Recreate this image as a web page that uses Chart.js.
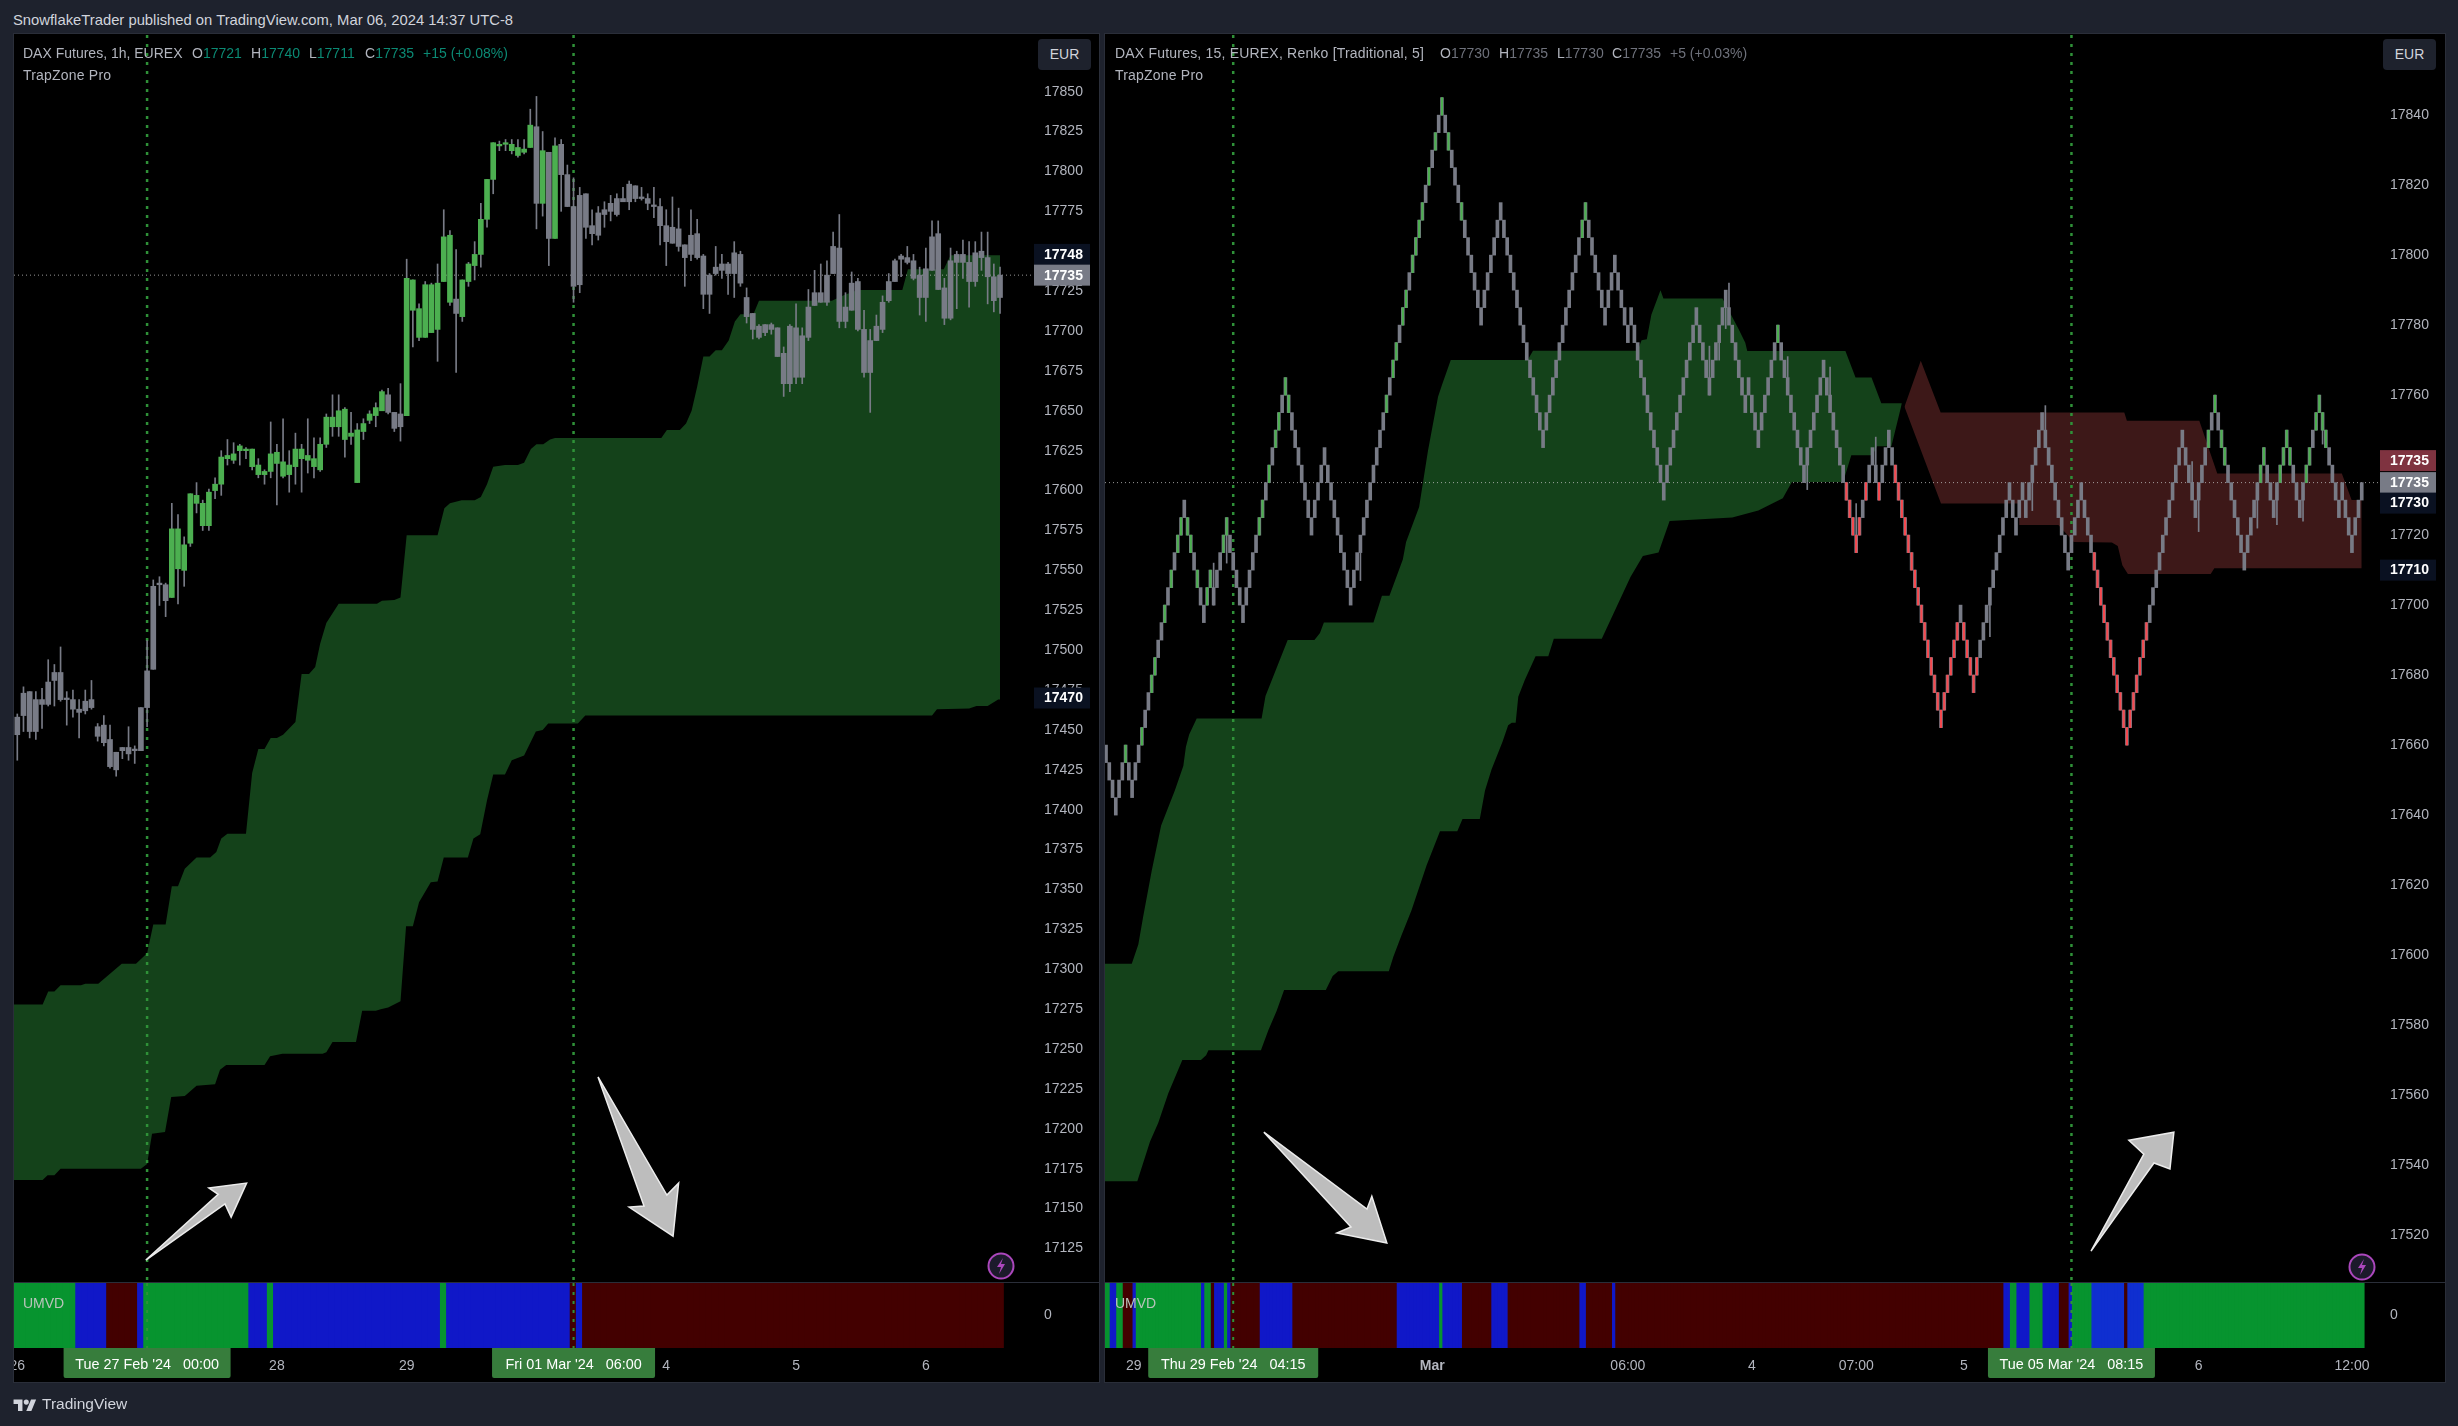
<!DOCTYPE html>
<html>
<head>
<meta charset="utf-8">
<title>DAX Futures TrapZone Pro</title>
<script src="https://cdn.jsdelivr.net/npm/chart.js@4.4.6/dist/chart.umd.min.js"></script>
<style>
  html, body { margin: 0; padding: 0; width: 2458px; height: 1426px; overflow: hidden; background: #1e222d; }
  body, div, span { font-family: "Liberation Sans", sans-serif; font-size: 14px; color: #b2b5be; }
  .abs { position: absolute; white-space: pre; line-height: 16px; }
  .panel { position: absolute; top: 34px; height: 1348px; background: #000; outline: 1px solid #2a2e39; }
  canvas { position: absolute; left: 0; top: 1px; }
  .eur { position: absolute; top: 39px; width: 53px; height: 31px; line-height: 31px; text-align: center; background: #1e222d; border-radius: 4px; color: #d1d4dc; }
  .val { color: #0b8a74; }
  .dim { color: #6e717b; }
</style>
</head>
<body>

<div class="abs" style="left:13px;top:12px;color:#d1d4dc;font-size:14.8px">SnowflakeTrader published on TradingView.com, Mar 06, 2024 14:37 UTC-8</div>

<div class="panel" style="left:14px;width:1085px"><canvas id="chartLeft" width="1085" height="1347"></canvas></div>
<div class="panel" style="left:1105px;width:1340px"><canvas id="chartRight" width="1340" height="1347"></canvas></div>

<div class="abs" style="left:23px;top:45px">DAX Futures, 1h, EUREX</div>
<div class="abs" style="left:192px;top:45px">O<span class="val">17721</span></div>
<div class="abs" style="left:251px;top:45px">H<span class="val">17740</span></div>
<div class="abs" style="left:309px;top:45px">L<span class="val">17711</span></div>
<div class="abs" style="left:365px;top:45px">C<span class="val">17735</span></div>
<div class="abs val" style="left:423px;top:45px">+15 (+0.08%)</div>
<div class="abs" style="left:23px;top:67px;letter-spacing:.2px">TrapZone Pro</div>

<div class="abs" style="left:1115px;top:45px;letter-spacing:.2px">DAX Futures, 15, EUREX, Renko [Traditional, 5]</div>
<div class="abs" style="left:1440px;top:45px">O<span class="dim">17730</span></div>
<div class="abs" style="left:1499px;top:45px">H<span class="dim">17735</span></div>
<div class="abs" style="left:1557px;top:45px">L<span class="dim">17730</span></div>
<div class="abs" style="left:1612px;top:45px">C<span class="dim">17735</span></div>
<div class="abs dim" style="left:1670px;top:45px">+5 (+0.03%)</div>
<div class="abs" style="left:1115px;top:67px;letter-spacing:.2px">TrapZone Pro</div>

<div class="eur" style="left:1038px">EUR</div>
<div class="eur" style="left:2383px">EUR</div>

<div class="abs" style="left:23px;top:1295px;color:#b9c4bb">UMVD</div>
<div class="abs" style="left:1115px;top:1295px;color:#b9c4bb">UMVD</div>

<svg style="position:absolute;left:987px;top:1252px" width="28" height="28" viewBox="0 0 28 28">
  <circle cx="14" cy="14" r="12.5" fill="#1c1a2b" stroke="#ab47bc" stroke-width="2"/>
  <path d="M16 6 L10 15 H14 L12 22 L18 12 H14 Z" fill="#ab47bc"/>
</svg>
<svg style="position:absolute;left:2348px;top:1253px" width="28" height="28" viewBox="0 0 28 28">
  <circle cx="14" cy="14" r="12.5" fill="#1c1a2b" stroke="#ab47bc" stroke-width="2"/>
  <path d="M16 6 L10 15 H14 L12 22 L18 12 H14 Z" fill="#ab47bc"/>
</svg>

<svg style="position:absolute;left:13px;top:1397px" width="24" height="14" viewBox="0 0 36 22">
  <path d="M14 22H7V11H0V4h14v18zM28 22h-8l7.5-18h8L28 22z" fill="#d1d4dc"/><circle cx="20" cy="8" r="4" fill="#d1d4dc"/>
</svg>
<div class="abs" style="left:42px;top:1396px;color:#d1d4dc;font-size:15.5px">TradingView</div>

<script>
const fontName = '"Liberation Sans", sans-serif';
const gray = '#787b86', green = '#4caf50', red = '#f6494f';
const umvdColors = { g: '#07942f', b: '#1018c8', c: '#0f2fd0', m: '#430000' };

// ---- left chart, 1h candles ----
const candleTop = [17458,17473,17474,17469,17469,17480,17486,17486,17470,17469,17463,17468,17469,17452,17453,17444,17436,17439,17439,17438,
  17464,17487,17540,17542,17541,17576,17576,17566,17598,17597,17592,17599,17604,17621,17622,17623,17628,17626,17626,17616,
  17612,17623,17624,17618,17616,17626,17626,17622,17620,17629,17646,17646,17650,17651,17636,17638,17642,17648,17652,17662,
  17660,17649,17648,17733,17732,17714,17729,17729,17730,17759,17760,17720,17732,17742,17748,17770,17795,17818,17817,17818,
  17817,17815,17814,17829,17828,17813,17812,17816,17817,17798,17778,17785,17786,17766,17774,17776,17780,17783,17783,17792,
  17791,17784,17783,17779,17778,17766,17765,17764,17754,17760,17761,17747,17735,17740,17742,17742,17749,17748,17721,17711,
  17703,17704,17704,17702,17686,17703,17702,17697,17715,17724,17724,17735,17753,17752,17715,17730,17731,17701,17694,17703,
  17718,17731,17744,17747,17746,17744,17735,17739,17759,17761,17727,17744,17748,17748,17743,17749,17750,17746,17734,17735];
const candleBottom = [17447,17459,17449,17449,17466,17466,17481,17469,17469,17463,17461,17462,17464,17446,17442,17427,17425,17437,17435,17437,
  17437,17464,17488,17541,17531,17533,17551,17550,17567,17592,17578,17578,17600,17604,17620,17619,17625,17625,17615,17610,
  17610,17612,17617,17609,17610,17615,17620,17619,17615,17613,17629,17640,17640,17632,17634,17605,17637,17644,17647,17650,
  17649,17639,17640,17647,17713,17696,17696,17699,17701,17731,17718,17711,17709,17731,17741,17748,17770,17795,17816,17817,
  17813,17810,17812,17815,17780,17780,17758,17758,17798,17778,17728,17729,17765,17761,17760,17773,17775,17773,17781,17781,
  17783,17783,17780,17778,17766,17756,17755,17753,17746,17748,17746,17723,17723,17736,17738,17736,17736,17730,17709,17701,
  17696,17699,17701,17684,17667,17667,17671,17671,17696,17716,17718,17718,17736,17706,17706,17713,17701,17674,17674,17694,
  17701,17719,17731,17745,17743,17733,17721,17721,17738,17726,17708,17708,17743,17743,17731,17731,17746,17734,17719,17721];
const candleHigh = [17460,17477,17474,17474,17476,17494,17491,17502,17474,17475,17469,17475,17481,17454,17459,17453,17436,17439,17452,17440,
  17464,17506,17544,17546,17542,17592,17585,17571,17598,17605,17594,17601,17608,17625,17632,17630,17629,17627,17626,17620,
  17613,17643,17629,17645,17625,17636,17629,17645,17633,17633,17648,17660,17660,17652,17649,17642,17645,17650,17655,17663,
  17664,17649,17667,17745,17732,17717,17731,17730,17742,17776,17763,17751,17732,17743,17756,17780,17795,17818,17819,17820,
  17820,17820,17820,17839,17847,17825,17812,17821,17820,17804,17796,17790,17786,17776,17778,17781,17785,17786,17790,17794,
  17791,17790,17786,17790,17783,17776,17784,17777,17754,17776,17770,17748,17736,17753,17748,17743,17756,17750,17727,17711,
  17704,17704,17705,17702,17690,17704,17717,17702,17726,17738,17742,17744,17762,17773,17724,17737,17733,17713,17701,17710,
  17722,17736,17745,17748,17753,17748,17740,17752,17769,17769,17733,17752,17750,17757,17756,17756,17762,17762,17742,17740];
const candleLow = [17431,17449,17445,17444,17451,17465,17465,17468,17453,17458,17445,17460,17463,17443,17440,17426,17421,17432,17431,17429,
  17437,17452,17488,17528,17521,17533,17529,17540,17565,17586,17575,17575,17595,17597,17616,17617,17616,17620,17613,17608,
  17604,17608,17591,17608,17599,17604,17599,17611,17608,17612,17627,17634,17634,17621,17629,17605,17632,17642,17640,17650,
  17648,17637,17631,17647,17690,17694,17696,17699,17681,17731,17716,17674,17706,17728,17732,17740,17765,17786,17813,17813,
  17811,17809,17811,17815,17764,17772,17741,17758,17775,17778,17718,17724,17758,17754,17757,17765,17769,17772,17781,17776,
  17781,17782,17776,17771,17754,17741,17755,17750,17728,17744,17745,17714,17711,17735,17733,17723,17721,17728,17705,17695,
  17695,17697,17698,17684,17659,17662,17667,17667,17694,17716,17718,17716,17736,17702,17702,17713,17700,17671,17649,17694,
  17699,17718,17731,17734,17742,17732,17710,17706,17738,17726,17704,17707,17714,17733,17715,17728,17738,17717,17712,17711];
const candleGreen = [25,26,27,28,29,30,31,32,33,34,35,36,37,38,39,40,41,42,43,44,45,46,47,48,49,50,51,52,53,54,55,56,57,58,59,
  63,64,65,66,67,68,69,70,72,73,74,75,76,77,78,79,80,81,82,83,85,87];

const bandLeftTopX = [-0.6,4.1,5,6,7,10.3,11,13.1,16.9,19.2,21,22,24,25,26,27.1,29,31.2,32.2,33,34,37,38,39,40,41,42,43,45,46,47.2,48.2,49,50,52,58.2,59,61,62,63,68,69.1,70,71.9,74,75,76,77,78.9,81,82,83.1,84,85.1,86.2,87,104.2,105.1,107.2,108.2,109.1,110,111,112,113,114,115.1,116.1,117,119.1,120,131.8,133.8,136,143.2,144.1,149.9,151,159];
const bandLeftTopY = [17278,17278,17286,17286,17290,17290,17291,17291,17303.5,17303.5,17310,17328,17328,17352,17352,17363,17370,17370,17373.5,17382,17385,17385,17423,17438,17438,17445,17445,17447,17455,17485,17485,17489.5,17504,17517,17529,17529,17531,17531.5,17533,17572,17572,17589,17592,17594,17594,17596,17604,17615,17616,17616,17617.5,17626,17629,17629,17632,17633,17633,17638,17638,17642,17650,17665,17684,17684,17688,17688,17694,17706,17710.5,17710.5,17719,17719,17722.6,17725.7,17725.7,17738.7,17738.7,17747.4,17747.4];
const bandLeftBottomX = [-0.6,4.1,4.9,6,7,20,21,21.8,23.9,24.9,27.1,29,32,32.8,33.8,40,40.9,42.9,49.4,50,51,54.8,55.8,58,58.8,60,62,62.9,64,65,66.9,68,69,72.9,73.8,74.9,76,77,78.9,80,82,83.9,85,85.9,90.7,91.9,148,148.8,154,155.2,157,158.7,159];
const bandLeftBottomY = [17168,17168,17171,17171,17175,17175,17178,17197,17198,17220,17220.6,17227,17228,17237,17240,17240,17245.5,17247,17247,17248,17254.5,17254.5,17274,17274,17275,17276,17280,17327,17327,17342,17354.5,17355,17370,17370,17382,17384.6,17406,17422,17422,17431,17434,17449,17450,17454,17454,17459,17459,17463,17463.4,17465,17465,17469,17469];

const priceTicksLeft = [17850,17825,17800,17775,17750,17725,17700,17675,17650,17625,17600,17575,17550,17525,17500,17475,17450,17425,17400,17375,17350,17325,17300,17275,17250,17225,17200,17175,17150,17125];
const timeTicksLeft = [0,42,63,105,126,147];
const timeLabelsLeft = ['26','28','29','4','5','6'];
const umvdLeftState = ['g','b','m','b','g','b','g','b','g','b','m','b','m'];
const umvdLeftBars = [10,5,5,1,17,3,1,27,1,20,1,1,68];

// ---- right chart, renko ----
const renkoCloses = [17655,17650,17645,17640,17650,17655,17660,17650,17645,
  17655,17660,17665,17670,17675,17680,17685,17690,17695,17700,17705,17710,17715,17720,17725,17730,
  17720,17715,17710,17705,17700,17695,17705,17710,17700,17710,17715,17720,17725,17715,17710,17705,17700,17695,
  17705,17710,17715,17720,17725,17730,17735,17740,17745,17750,17755,17760,17765,
  17755,17750,17745,17740,17735,17730,17725,17720,17730,17735,17740,17745,
  17735,17730,17725,17720,17715,17710,17705,17700,
  17710,17715,17720,17725,17730,17735,17740,17745,17750,17755,17760,17765,17770,17775,17780,17785,17790,17795,17800,17805,17810,17815,17820,17825,17830,17835,17840,17845,
  17835,17830,17825,17820,17815,17810,17805,17800,17795,17790,17785,17780,
  17790,17795,17800,17805,17810,17815,
  17805,17800,17795,17790,17785,17780,17775,17770,17765,17760,17755,17750,17745,
  17755,17760,17765,17770,17775,17780,17785,17790,17795,17800,17805,17810,17815,
  17805,17800,17795,17790,17785,17780,17790,17795,17800,17790,17785,17780,17775,17785,
  17775,17770,17765,17760,17755,17750,17745,17740,17735,17730,
  17740,17745,17750,17755,17760,17765,17770,17775,17780,17785,
  17775,17770,17765,17760,17770,17775,17780,17785,17790,17780,17775,17770,17765,17760,17755,17765,17755,17750,17745,
  17755,17760,17765,17770,17775,17780,17770,17765,17760,17755,17750,17745,17740,17735,
  17745,17750,17755,17760,17765,17770,17760,17755,17750,17745,17740,17735,17730,17725,17720,17715,
  17725,17730,17735,17740,17745,17735,17730,17740,17745,17750,
  17740,17735,17730,17725,17720,17715,17710,17705,17700,17695,17690,17685,17680,17675,17670,17665,
  17675,17680,17685,17690,17695,17700,17690,17685,17680,17675,
  17685,17690,17695,17700,17705,17710,17715,17720,17725,17730,17735,17725,17720,17730,17735,17725,
  17735,17740,17745,17750,17755,17745,17740,17735,17730,17725,17720,17715,17710,17720,17725,17730,17735,
  17725,17720,17715,17710,17705,17700,17695,17690,17685,17680,17675,17670,17665,17660,
  17670,17675,17680,17685,17690,17695,17700,17705,17710,17715,17720,17725,17730,17735,17740,17745,17750,
  17740,17735,17730,17725,17735,17740,17745,17750,17755,17760,
  17750,17745,17740,17735,17730,17725,17720,17715,17710,17720,17725,17730,17735,17740,17745,
  17735,17730,17725,17735,17740,17745,17750,17740,17735,17730,17725,17735,17740,17745,17750,17755,17760,
  17750,17745,17740,17735,17730,17725,17735,17725,17720,17715,17725,17730,17735];
const brickSize = 5;
const renkoGreen = [6,11,14,15,18,20,22,23,25,26,28,31,32,36,37,47,48,50,52,53,55,56,86,88,89,91,92,94,95,96,97,99,101,103,105,109,146,147,206,
  338,340,342,343,354,355,360,361,362,363,368,369,371,372,373,374];
const renkoRed = [227,228,229,230,231,233,237,242,243,244,245,246,247,248,249,250,251,252,253,254,255,256,257,258,259,260,261,263,264,265,266,267,
  303,304,305,306,307,308,309,310,311,312,313,314,315,316,317,318,319];
const renkoWickIndex = [33,37,78,185,188,190,191,209,215,222,230,236,271,284,288,333,335,353,359,367,373];
const renkoWickLow = [17700,17712,17707,17760,17770,17779,17785,17765,17733,17760,17715,17735,17691,17727,17745,17735,17721,17722,17723,17724,17746];
const renkoWickHigh = [17712,17720,17715,17774,17775,17785,17792,17771,17740,17768,17729,17748,17700,17735,17757,17741,17730,17730,17730,17730,17755];

const bandRightTopX = [-0.4,7.9,9.9,11.4,14,16.9,21.1,23.7,24.5,25.5,27.8,47.7,48.9,52.3,55.7,63.9,65.6,66.8,82,84.6,86.9,91,92,96,98.7,101.8,103,105.7,129.3,130.9,163,164.2,165.8,167.2,170,170.9,189,193.9,196,196.6,226.7,229.8,234.7,237.7,244];
const bandRightTopY = [17597.5,17597.5,17603,17611,17624,17637,17647,17654,17659.5,17663,17667.6,17667.6,17674,17682,17690,17690,17692,17695,17695,17702.7,17702.7,17713,17718,17728,17744,17759.5,17762.9,17770,17770,17772.7,17772.7,17775.7,17776,17783,17790,17787.6,17787.6,17779,17775,17772.6,17772.6,17765,17765,17757.7,17757.7];
const bandRightBottomX = [-0.4,9.6,13.5,16,19.1,23.4,29.1,30.7,31.4,47.5,49.8,52.3,54.6,67.4,69.5,71.2,86.7,88.1,90.6,93.7,98.3,102.4,107.7,109.3,114.6,116.2,118.2,121.6,123.3,124.4,125.6,126.4,128.4,131.7,135.6,137.3,152,160.8,164.6,169.4,172.8,192,200,207.5,208.6,210.3,226,228.5,235,236.4,240.8,244];
const bandRightBottomY = [17535.4,17535.4,17546.7,17552,17560.5,17570,17570,17571.4,17572.8,17572.8,17578.6,17584,17590,17590,17594,17595.4,17595.4,17599.5,17605.7,17612.9,17625.7,17635.4,17635.4,17638.9,17638.9,17647,17653,17661,17665.7,17666.4,17666.4,17673.8,17678.6,17685.4,17685.4,17690.4,17690.4,17708,17714,17715,17724,17725,17727,17730.5,17732.4,17735.2,17735.2,17742.8,17742.8,17745.4,17745.4,17757.6];
const redBandTopX = [244.8,249.8,255.9,312.2,313,335.2,340.7,378.9,381.9,385];
const redBandTopY = [17756.7,17769.8,17755,17755,17752.7,17752.7,17737.6,17737.6,17730,17730];
const redBandBottomX = [244.8,256,279.9,280,292,296.7,308.4,310.2,311.6,313.3,338.7,339.8,385];
const redBandBottomY = [17756.7,17729,17729,17722.9,17722.9,17718,17717.9,17716.9,17711.4,17708.9,17708.9,17710.5,17710.5];

const priceTicksRight = [17840,17820,17800,17780,17760,17740,17720,17700,17680,17660,17640,17620,17600,17580,17560,17540,17520];
const timeTicksRight = [8.5,100,160,198,230,263,335,382];
const timeLabelsRight = ['29','Mar','06:00','4','07:00','5','6','12:00'];
const umvdRightState = ['g','b','g','m','b','g','b','g','m','b','g','b','m','b','m','b','g','b','m','b','m','b','m','b','m','b','g','b','g','b','m','b','g','c','m','c','g'];
const umvdRightBars = [2,2,2,3,1,20,1,2,1,3,1,1,9,10,32,13,1,6,9,5,22,2,8,1,119,2,2,4,4,5,3,1,6,10,1,5,67];

function pts(xs, ys) { return xs.map((x, i) => ({ x: x, y: ys[i] })); }

function band(xTop, yTop, xBot, yBot, color) {
  return [
    { type: 'line', order: 10, data: pts(xTop, yTop), borderWidth: 0, pointRadius: 0, tension: 0, fill: '+1', backgroundColor: color, yAxisID: 'y' },
    { type: 'line', order: 10, data: pts(xBot, yBot), borderWidth: 0, pointRadius: 0, tension: 0, fill: false, yAxisID: 'y' }
  ];
}

function crosshairs(lastPrice, xMin, xMax, yMin, yMax, vlines) {
  const out = [{ type: 'line', order: 6, data: [{ x: xMin, y: lastPrice }, { x: xMax, y: lastPrice }], borderColor: 'rgba(190,190,190,0.8)', borderWidth: 1, borderDash: [1, 3], pointRadius: 0, yAxisID: 'y' }];
  vlines.forEach(v => {
    out.push({ type: 'line', order: 6, data: [{ x: v, y: yMax }, { x: v, y: yMin }], borderColor: '#2f9138', borderWidth: 2.5, borderDash: [3, 6], pointRadius: 0, yAxisID: 'y' });
    out.push({ type: 'line', order: 0, data: [{ x: v, y: 1 }, { x: v, y: -1 }], borderColor: '#2f9138', borderWidth: 2, borderDash: [3, 6], pointRadius: 0, yAxisID: 'ind' });
  });
  return out;
}

// one floating bar per bar index in the lower UMVD pane
function umvdDataset(states, bars, thickness) {
  const data = [], colors = [];
  let n = 0;
  states.forEach((s, k) => {
    for (let j = 0; j < bars[k]; j++) { data.push({ x: n, y: [-1, 1] }); colors.push(umvdColors[s]); n++; }
  });
  return { type: 'bar', order: 3, data: data, backgroundColor: colors, barThickness: thickness, grouped: false, borderWidth: 0, yAxisID: 'ind' };
}

// price tags, date labels, pane separator and the drawn arrows
function overlay(tags, dates, arrows) {
  return {
    id: 'overlay',
    afterDraw(chart) {
      const ctx = chart.ctx, x = chart.scales.x, y = chart.scales.y, area = chart.chartArea;
      ctx.save();
      ctx.fillStyle = '#2a2e39';
      ctx.fillRect(0, chart.scales.ind.top - 1, chart.width, 1);

      arrows.forEach(a => {
        ctx.beginPath();
        a.forEach((p, i) => {
          const px = x.getPixelForValue(p[0]), py = y.getPixelForValue(p[1]);
          if (i === 0) ctx.moveTo(px, py); else ctx.lineTo(px, py);
        });
        ctx.closePath();
        ctx.fillStyle = '#bdbdbd';
        ctx.fill();
        ctx.strokeStyle = '#ececec';
        ctx.lineWidth = 1.5;
        ctx.stroke();
      });

      ctx.font = 'bold 14px ' + fontName;
      ctx.textBaseline = 'middle';
      tags.forEach(t => {
        const cy = y.getPixelForValue(t.value) + (t.shift || 0);
        ctx.fillStyle = t.color;
        ctx.fillRect(area.right, cy - 10.5, 56, 21);
        ctx.fillStyle = '#ffffff';
        ctx.textAlign = 'left';
        ctx.fillText(String(t.value), area.right + 10, cy + 0.5);
      });

      ctx.font = '14.4px ' + fontName;
      dates.forEach(d => {
        const cx = x.getPixelForValue(d.at);
        ctx.fillStyle = '#377d3c';
        ctx.beginPath();
        ctx.roundRect(cx - d.width / 2, area.bottom, d.width, 30, [0, 0, 2, 2]);
        ctx.fill();
        ctx.fillStyle = '#ffffff';
        ctx.textAlign = 'center';
        ctx.fillText(d.label, cx, area.bottom + 17);
      });
      ctx.restore();
    }
  };
}

// no label padding: the plot has to fill the pane right up to its edges
function noScalePadding(s) {
  s.paddingLeft = s.paddingRight = s.paddingTop = s.paddingBottom = 0;
  s.getPadding = () => ({ left: 0, right: 0, top: 0, bottom: 0 });
}

function paneOptions(xMin, xMax, yMin, yMax, priceTicks, timeTicks, timeLabels) {
  const tickFont = { size: 14, family: fontName };
  const noGrid = { display: false, drawTicks: false };
  return {
    responsive: false,
    animation: false,
    events: [],
    layout: { padding: 0, autoPadding: false },
    plugins: { legend: { display: false }, tooltip: { enabled: false } },
    scales: {
      x: {
        type: 'linear', position: 'bottom', min: xMin, max: xMax, offset: false,
        grid: noGrid, border: { display: false },
        afterBuildTicks(s) { s.ticks = timeTicks.map(v => ({ value: v })); },
        afterFit(s) { s.height = 34; noScalePadding(s); },
        ticks: {
          autoSkip: false, maxRotation: 0, minRotation: 0, padding: 10, color: '#b2b5be',
          font: c => ({ size: 14, family: fontName, weight: c.tick && c.tick.label === 'Mar' ? 'bold' : 'normal' }),
          callback: v => timeLabels[timeTicks.indexOf(v)]
        }
      },
      y: {
        type: 'linear', position: 'right', stack: 'pane', stackWeight: 1248, min: yMin, max: yMax,
        grid: noGrid, border: { display: false },
        afterBuildTicks(s) { s.ticks = priceTicks.map(v => ({ value: v })); },
        afterFit(s) { s.width = 65; noScalePadding(s); },
        ticks: { autoSkip: false, padding: 10, color: '#b2b5be', font: tickFont, callback: v => String(v) }
      },
      ind: {
        type: 'linear', position: 'right', stack: 'pane', stackWeight: 65, min: -1.0, max: 1.0,
        grid: noGrid, border: { display: false },
        afterBuildTicks(s) { s.ticks = [{ value: 0 }]; },
        afterFit(s) { s.width = 65; noScalePadding(s); },
        ticks: { autoSkip: false, padding: 10, color: '#b2b5be', font: tickFont, callback: v => String(v) }
      }
    }
  };
}

// left chart
const candleIdx = candleTop.map((v, i) => i);
new Chart(document.getElementById('chartLeft'), {
  type: 'bar',
  data: {
    datasets: [
      ...band(bandLeftTopX, bandLeftTopY, bandLeftBottomX, bandLeftBottomY, '#14421a'),
      ...crosshairs(17735, -0.534, 164.5, 17103.4, 17885.5, [21, 90]),
      umvdDataset(umvdLeftState, umvdLeftBars, 7),
      { type: 'bar', order: 2, data: candleIdx.map(i => ({ x: i, y: [candleLow[i], candleHigh[i]] })), backgroundColor: gray, barThickness: 1, grouped: false, borderWidth: 0, yAxisID: 'y' },
      { type: 'bar', order: 1, data: candleIdx.map(i => ({ x: i, y: [candleBottom[i], candleTop[i]] })), backgroundColor: candleIdx.map(i => candleGreen.includes(i) ? green : gray), barThickness: 5, grouped: false, borderWidth: 0, yAxisID: 'y' }
    ]
  },
  options: paneOptions(-0.534, 164.5, 17103.4, 17885.5, priceTicksLeft, timeTicksLeft, timeLabelsLeft),
  plugins: [overlay(
    [{ value: 17748, color: '#0a1121' }, { value: 17735, color: gray }, { value: 17470, color: '#0a1121' }],
    [{ at: 21, width: 167, label: "Tue 27 Feb '24   00:00" }, { at: 90, width: 163, label: "Fri 01 Mar '24   06:00" }],
    [
      [[20.8,17117.8],[32.5,17159],[31,17163],[37.1,17166],[34.6,17144.7],[33.6,17153]],
      [[93.96,17232.5],[105.1,17158.5],[107,17166],[106.1,17132.8],[99,17151],[101.4,17151.6]]
    ]
  )]
});

// right chart
const brickIdx = renkoCloses.map((v, i) => i);
const brickRange = i => {
  const up = i > 0 && renkoCloses[i] > renkoCloses[i - 1];
  return up ? [renkoCloses[i] - brickSize, renkoCloses[i]] : [renkoCloses[i], renkoCloses[i] + brickSize];
};
const tintedBricks = brickIdx.filter(i => renkoGreen.includes(i) || renkoRed.includes(i));
new Chart(document.getElementById('chartRight'), {
  type: 'bar',
  data: {
    datasets: [
      ...band(bandRightTopX, bandRightTopY, bandRightBottomX, bandRightBottomY, '#14421a'),
      ...band(redBandTopX, redBandTopY, redBandBottomX, redBandBottomY, '#3d1818'),
      ...crosshairs(17735, -0.31, 390.6, 17506.3, 17862.9, [39, 296]),
      umvdDataset(umvdRightState, umvdRightBars, 5),
      { type: 'bar', order: 2, data: renkoWickIndex.map((x, k) => ({ x: x, y: [renkoWickLow[k], renkoWickHigh[k]] })), backgroundColor: gray, barThickness: 1, grouped: false, borderWidth: 0, yAxisID: 'y' },
      { type: 'bar', order: 1.5, data: brickIdx.map(i => ({ x: i, y: brickRange(i) })), backgroundColor: gray, barThickness: 3, grouped: false, borderWidth: 0, yAxisID: 'y' },
      { type: 'bar', order: 1, data: tintedBricks.map(i => ({ x: i, y: brickRange(i) })), backgroundColor: tintedBricks.map(i => renkoGreen.includes(i) ? green : red), barThickness: 1.5, grouped: false, borderWidth: 0, yAxisID: 'y' }
    ]
  },
  options: paneOptions(-0.31, 390.6, 17506.3, 17862.9, priceTicksRight, timeTicksRight, timeLabelsRight),
  plugins: [overlay(
    [{ value: 17735, color: '#7f3340', shift: -22 }, { value: 17735, color: gray }, { value: 17730, color: '#0a1121', shift: 3 }, { value: 17710, color: '#0a1121' }],
    [{ at: 39, width: 170, label: "Thu 29 Feb '24   04:15" }, { at: 296, width: 167, label: "Tue 05 Mar '24   08:15" }],
    [
      [[48.4,17549.4],[80,17527.4],[81.5,17531.1],[86.1,17517.7],[70.8,17520.6],[75.1,17522.3]],
      [[302,17515.4],[318.2,17543.1],[313.6,17547.1],[327.4,17549.4],[326.2,17538.9],[321.3,17540.6]]
    ]
  )]
});
</script>
</body>
</html>
